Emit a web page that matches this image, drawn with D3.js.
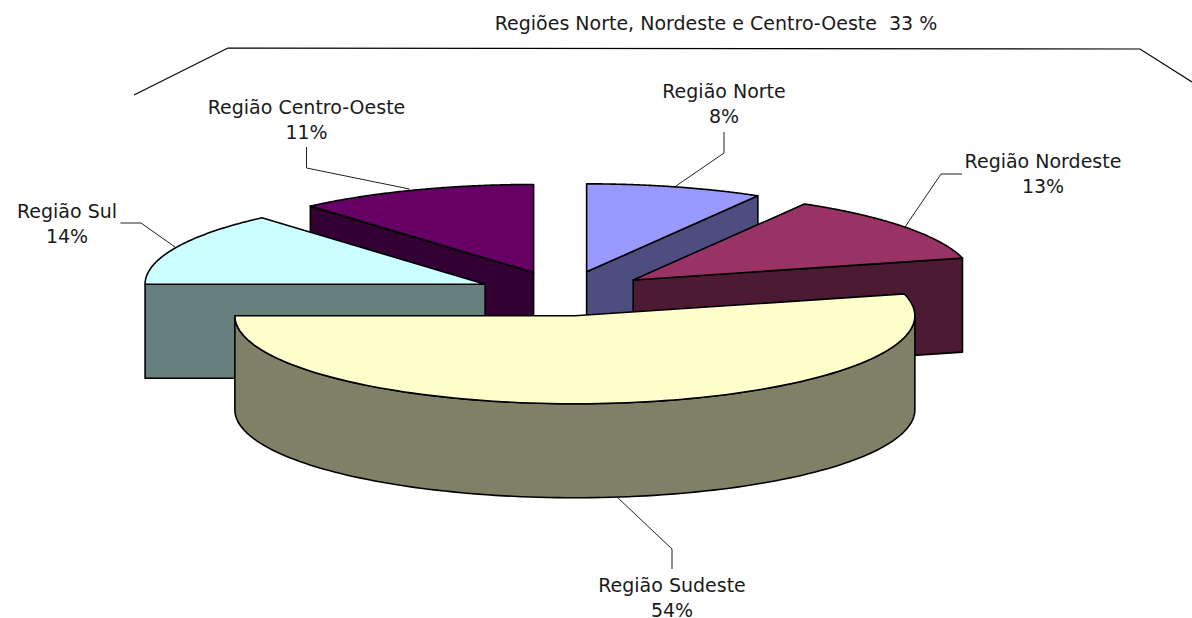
<!DOCTYPE html>
<html>
<head>
<meta charset="utf-8">
<script src="https://cdn.jsdelivr.net/npm/d3@7"></script>
<style>
  html, body { margin: 0; padding: 0; background: #fff; }
  text { font-family: "DejaVu Sans", sans-serif; font-size: 19px; fill: #1a1a1a; }
</style>
</head>
<body>
<div id="chart"></div>
<script>
// values (decimals estimated so the slice angles fit)
const regions = ["Região Norte", "Região Nordeste", "Região Sudeste", "Região Sul", "Região Centro-Oeste"];
const shares = [8.4, 12.6, 54, 13.6, 11.4];
const bracketLabel = "Regiões Norte, Nordeste e Centro-Oeste  33 %";

const topColors = ["#9999ff", "#993366", "#ffffcc", "#ccffff", "#660066"];
const sideColors = ["#4d4d80", "#4d1a33", "#808066", "#668080", "#330033"];

// back to front
const drawOrder = [4, 0, 3, 1, 2];

// label centre and baseline of first line, then leader line
const labelPos = [[724, 98], [1043, 168], [672, 592], [67, 218], [306.5, 114]];
const leaders = [
    [[724, 132], [724, 153], [676, 186]],
    [[962, 174], [941, 174], [905, 227]],
    [[672, 569], [672, 549], [617, 497]],
    [[120.5, 223], [141, 223], [175, 247]],
    [[306.5, 147], [306.5, 168], [409.5, 189]]
];
const bracket = [[134, 95], [228, 48], [1140, 49], [1192, 82]];

const width = 1192, height = 618;
const cx = 564, cy = 293.5, rx = 340, ry = 88, depth = 94, explode = 0.255;

const svg = d3.select("#chart").append("svg")
    .attr("width", width)
    .attr("height", height)
    .style("display", "block");

const xScale = d3.scaleLinear().domain([-1, 1]).range([cx - rx, cx + rx]);
const yScale = d3.scaleLinear().domain([-1, 1]).range([cy - ry, cy + ry]);

const arcs = d3.pie().sort(null).value(d => d)(shares);
const line = d3.line();

drawOrder.forEach(i => {
    const a = arcs[i];
    const mid = (a.startAngle + a.endAngle) / 2;
    const ox = explode * Math.sin(mid), oy = -explode * Math.cos(mid);

    // point on the rim at angle t, dropped by dz pixels; r=0 gives the apex
    const pt = (t, r, dz) => [xScale(ox + r * Math.sin(t)), yScale(oy - r * Math.cos(t)) + dz];
    const sweep = (t0, t1, dz) => d3.range(0, 121).map(k => pt(t0 + (t1 - t0) * k / 120, 1, dz));
    const g = svg.append("g");
    const face = (points, fill) => g.append("path")
        .attr("d", line(points) + "Z")
        .attr("fill", fill)
        .attr("stroke", "#000")
        .attr("stroke-width", 1.6)
        .attr("stroke-linejoin", "round");

    // cut faces, only the ones turned towards the viewer
    if (a.startAngle > Math.PI) {
        face([pt(a.startAngle, 1, 0), pt(0, 0, 0), pt(0, 0, depth), pt(a.startAngle, 1, depth)], sideColors[i]);
    }
    if (a.endAngle < Math.PI) {
        face([pt(a.endAngle, 1, 0), pt(0, 0, 0), pt(0, 0, depth), pt(a.endAngle, 1, depth)], sideColors[i]);
    }

    // outer wall, front half only
    const t0 = Math.max(a.startAngle, Math.PI / 2), t1 = Math.min(a.endAngle, 3 * Math.PI / 2);
    if (t1 > t0) {
        face(sweep(t0, t1, 0).concat(sweep(t1, t0, depth)), sideColors[i]);
    }

    // top
    face([pt(0, 0, 0)].concat(sweep(a.startAngle, a.endAngle, 0)), topColors[i]);
});

// leader lines
svg.selectAll(".leader")
    .data(leaders)
    .enter().append("path")
    .attr("class", "leader")
    .attr("d", d => line(d))
    .attr("fill", "none")
    .attr("stroke", "#222")
    .attr("stroke-width", 1);

// labels
const pct = d3.format(".0f");
regions.forEach((name, i) => {
    const t = svg.append("text").attr("text-anchor", "middle");
    t.append("tspan").attr("x", labelPos[i][0]).attr("y", labelPos[i][1]).text(name);
    t.append("tspan").attr("x", labelPos[i][0]).attr("y", labelPos[i][1] + 24.5).text(pct(shares[i]) + "%");
});

// bracket over the three regions
svg.append("path")
    .attr("d", line(bracket))
    .attr("fill", "none")
    .attr("stroke", "#000")
    .attr("stroke-width", 1.2);

svg.append("text")
    .attr("x", 716)
    .attr("y", 30)
    .attr("text-anchor", "middle")
    .style("white-space", "pre")
    .text(bracketLabel);
</script>
</body>
</html>
